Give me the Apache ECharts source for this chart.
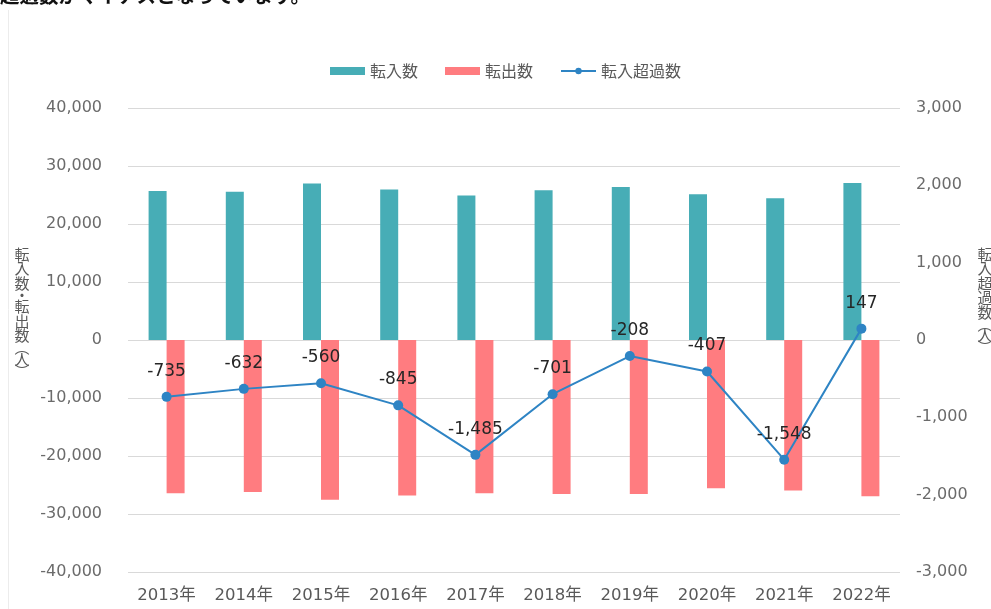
<!DOCTYPE html>
<html>
<head>
<meta charset="utf-8">
<script src="https://cdn.jsdelivr.net/npm/echarts@6/dist/echarts.min.js"></script>
<style>
  html, body { margin: 0; padding: 0; background: #fff; }
  #chart { width: 991px; height: 609px; }
</style>
</head>
<body>
<div id="chart"></div>
<script>
// 年度
const years = ['2013年', '2014年', '2015年', '2016年', '2017年', '2018年', '2019年', '2020年', '2021年', '2022年']
// 転入数
const inflow = [25680, 25560, 26980, 25950, 24930, 25830, 26360, 25140, 24420, 27080]
// 転出数（マイナス表示）
const outflow = [-26415, -26192, -27540, -26795, -26415, -26531, -26568, -25547, -25968, -26933]
// 転入超過数
const netflow = [-735, -632, -560, -845, -1485, -701, -208, -407, -1548, 147]
// 軸の目盛
const leftTicks = { min: -40000, max: 40000, interval: 10000 }
const rightTicks = { min: -3000, max: 3000, interval: 1000 }

const FONT = 'DejaVu Sans, Noto Sans CJK JP, sans-serif'
const fmt = v => Number(v).toLocaleString('en-US')

const chart = echarts.init(document.getElementById('chart'))

// 縦書きの軸名（括弧・中黒は詰める）
function vertical(str) {
  return str.split('').map(ch => {
    return '・︵︶'.indexOf(ch) >= 0 ? '{p|' + ch + '}' : '{a|' + ch + '}'
  }).join('\n')
}
function vStyle(str) {
  return {
    text: vertical(str),
    font: '15px "Noto Sans CJK JP"',
    fill: '#595959',
    align: 'center',
    verticalAlign: 'top',
    rich: {
      a: { font: '15px "Noto Sans CJK JP"', fill: '#595959', lineHeight: 14.5 },
      p: { font: '15px "Noto Sans CJK JP"', fill: '#595959', lineHeight: 9 }
    }
  }
}

const option = {
  animation: false,
  textStyle: { fontFamily: FONT },
  legend: {
    top: 58,
    left: 325,
    itemWidth: 35,
    itemHeight: 8,
    itemGap: 27,
    textStyle: { fontSize: 16, color: '#595959', fontFamily: 'Noto Sans CJK JP' },
    data: [
      { name: '転入数', icon: 'rect' },
      { name: '転出数', icon: 'rect' },
      { name: '転入超過数' }
    ]
  },
  grid: { left: 128, right: 91, top: 108, bottom: 37 },
  xAxis: {
    type: 'category',
    data: years,
    axisLine: { show: false, onZero: false },
    axisTick: { show: false },
    axisLabel: { fontSize: 16.5, color: '#595959', margin: 15 }
  },
  yAxis: [
    {
      type: 'value',
      min: leftTicks.min,
      max: leftTicks.max,
      interval: leftTicks.interval,
      axisLine: { show: false },
      axisTick: { show: false },
      splitLine: { lineStyle: { color: '#d9d9d9', width: 1 } },
      axisLabel: { fontSize: 16, color: '#6b6b6b', margin: 26, formatter: fmt }
    },
    {
      type: 'value',
      min: rightTicks.min,
      max: rightTicks.max,
      interval: rightTicks.interval,
      axisLine: { show: false },
      axisTick: { show: false },
      splitLine: { show: false },
      axisLabel: { fontSize: 16, color: '#6b6b6b', margin: 16, formatter: fmt }
    }
  ],
  series: [
    {
      name: '転入数',
      type: 'bar',
      data: inflow,
      barWidth: 18,
      barGap: '0%',
      itemStyle: { color: '#47adb6' }
    },
    {
      name: '転出数',
      type: 'bar',
      data: outflow,
      barWidth: 18,
      itemStyle: { color: '#ff7c80' }
    },
    {
      name: '転入超過数',
      type: 'line',
      yAxisIndex: 1,
      data: netflow,
      symbol: 'circle',
      symbolSize: 10,
      z: 5,
      itemStyle: { color: '#2e84c4' },
      lineStyle: { color: '#2e84c4', width: 2 },
      label: {
        show: true,
        position: 'top',
        distance: 12,
        fontSize: 17,
        color: '#262626',
        formatter: p => fmt(p.value)
      }
    }
  ],
  graphic: [
    {
      // 上部で切れている本文
      type: 'text',
      x: 0,
      y: -4,
      style: {
        text: '超過数がマイナスとなっています。',
        font: 'bold 19.5px "Noto Sans CJK JP"',
        fill: '#111',
        verticalAlign: 'middle'
      }
    },
    {
      type: 'line',
      shape: { x1: 8.5, y1: 10, x2: 8.5, y2: 609 },
      style: { stroke: '#ececec', lineWidth: 1 }
    },
    {
      type: 'text',
      x: 22,
      y: 247,
      style: vStyle('転入数・転出数︵人︶')
    },
    {
      type: 'text',
      x: 985,
      y: 247,
      style: vStyle('転入超過数︵人︶')
    }
  ]
}

chart.setOption(option)
</script>
</body>
</html>
